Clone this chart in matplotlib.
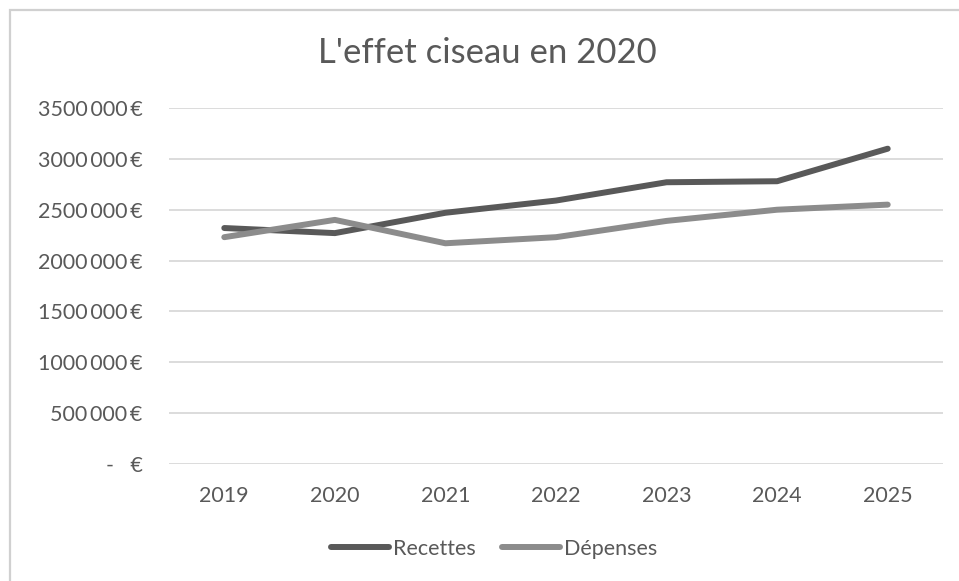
import matplotlib
matplotlib.use("Agg")
import matplotlib.pyplot as plt
from matplotlib.patches import Rectangle

years = ["2019", "2020", "2021", "2022", "2023", "2024", "2025"]
recettes = [2320000, 2270000, 2470000, 2590000, 2770000, 2780000, 3100000]
depenses = [2230000, 2400000, 2170000, 2230000, 2390000, 2500000, 2550000]
ytick_values = [0, 500000, 1000000, 1500000, 2000000, 2500000, 3000000, 3500000]
ytick_labels = ["-   €", "500\u2009000\u2009€", "1000\u2009000\u2009€", "1500\u2009000\u2009€",
                "2000\u2009000\u2009€", "2500\u2009000\u2009€", "3000\u2009000\u2009€",
                "3500\u2009000\u2009€"]
title = "L'effet ciseau en 2020"

plt.rcParams['font.family'] = ['Lato', 'DejaVu Sans']
text_color = "#595959"

fig = plt.figure(figsize=(9.59, 5.81), dpi=100)
fig.patches.append(Rectangle((10/959, -0.5), 1.2, 1.5 - 10/581, transform=fig.transFigure,
                             fill=False, edgecolor="#d0d0d0", linewidth=1.6))
ax = fig.add_axes([169/959, 1 - 464/581, 774/959, 356/581])

x = list(range(len(years)))
ax.plot(x, recettes, color="#595959", linewidth=4.3, solid_capstyle="round",
        solid_joinstyle="round", label="Recettes", zorder=3)
ax.plot(x, depenses, color="#8c8c8c", linewidth=4.3, solid_capstyle="round",
        solid_joinstyle="round", label="Dépenses", zorder=3)

ax.set_xlim(-0.5, len(years) - 0.5)
ax.set_ylim(0, 3500000)
ax.set_xticks(x)
ax.set_xticklabels(years)
ax.set_yticks(ytick_values)
ax.set_yticklabels(ytick_labels)
ax.tick_params(axis="both", length=0, labelsize=15.5, colors=text_color)
ax.tick_params(axis="x", pad=16)
ax.tick_params(axis="y", pad=19)
for lbl in ax.get_yticklabels():
    lbl.set_horizontalalignment("right")
ax.grid(axis="y", color="#d9d9d9", linewidth=1.3)
ax.set_axisbelow(True)
for s in ax.spines.values():
    s.set_visible(False)

fig.text(487/959, 1 - 53/581, title, ha="center", va="center",
         fontsize=25, color=text_color)

leg = fig.legend(loc="center", bbox_to_anchor=(494/959, 1 - 549/581), ncol=2,
                 frameon=False, fontsize=15.5, handlelength=2.7, handletextpad=0.2,
                 columnspacing=1.2)
for t in leg.get_texts():
    t.set_color(text_color)

fig.savefig("out.png", dpi=100)
